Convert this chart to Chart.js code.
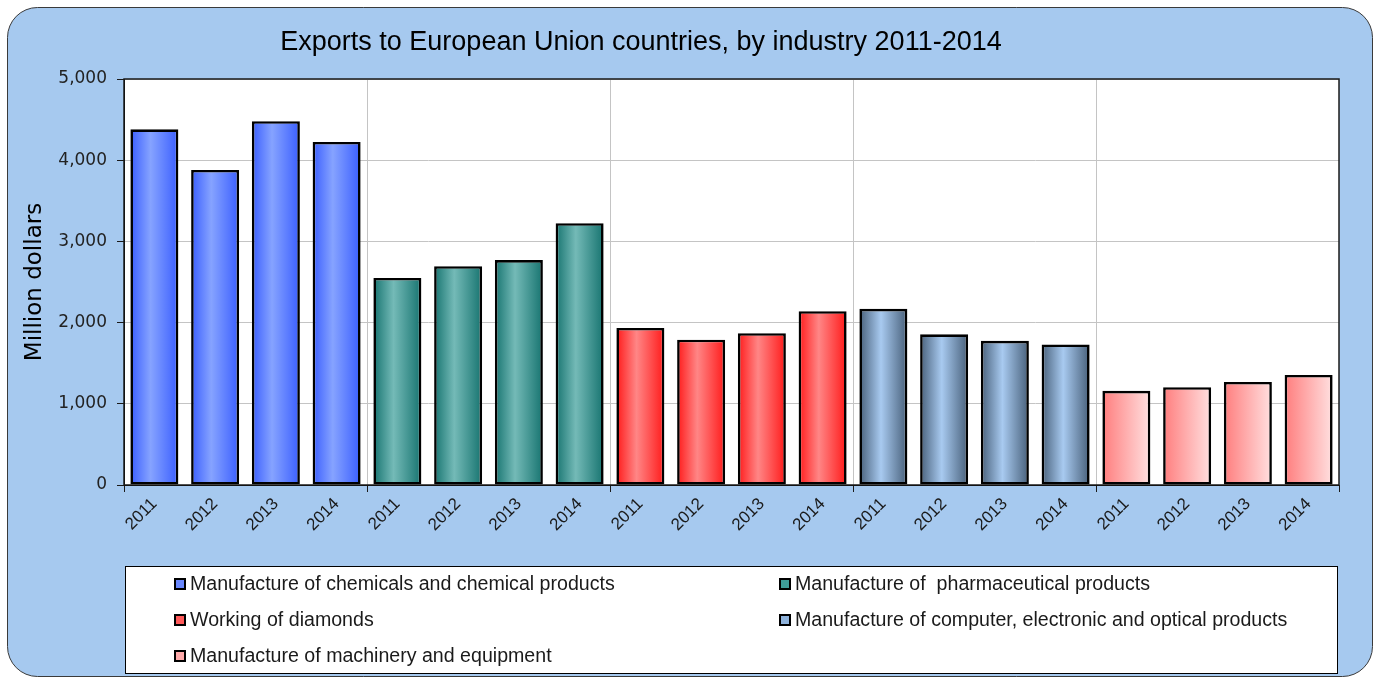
<!DOCTYPE html>
<html>
<head>
<meta charset="utf-8">
<title>Exports to European Union countries, by industry 2011-2014</title>
<script src="https://cdn.jsdelivr.net/npm/chart.js@4.4.1/dist/chart.umd.min.js"></script>
<style>
  html, body { margin: 0; padding: 0; background: #ffffff; }
  #wrap { position: relative; width: 1379px; height: 680px; }
</style>
</head>
<body>
<div id="wrap"><canvas id="chart" width="1379" height="680"></canvas></div>
<script>
// Export values, million dollars
const years = ['2011', '2012', '2013', '2014'];
const chemicals = [4380, 3880, 4480, 4225];
const pharmaceuticals = [2550, 2695, 2770, 3225];
const diamonds = [1935, 1790, 1870, 2140];
const computers = [2170, 1855, 1775, 1730];
const machinery = [1160, 1205, 1270, 1355];

const industryNames = [
  'Manufacture of chemicals and chemical products',
  'Manufacture of  pharmaceutical products',
  'Working of diamonds',
  'Manufacture of computer, electronic and optical products',
  'Manufacture of machinery and equipment'
];
const industryValues = [chemicals, pharmaceuticals, diamonds, computers, machinery];

const yTicks = [0, 1000, 2000, 3000, 4000, 5000];

// Horizontal shading stops for each industry's bars
const shading = [
  [[0, '#3a5eff'], [0.42, '#86a3ff'], [1, '#3a5eff']],
  [[0, '#177470'], [0.42, '#74bab7'], [1, '#177470']],
  [[0, '#ff1a1a'], [0.42, '#ff8686'], [1, '#ff1a1a']],
  [[0, '#48607a'], [0.45, '#a8caf0'], [1, '#48607a']],
  [[0, '#ff7d7d'], [1, '#ffe0e0']]
];
const swatchColors = ['#6a88ff', '#3f9c98', '#ff5a5a', '#8fb3dc', '#ffaaaa'];

const labels = [];
industryValues.forEach(() => years.forEach(y => labels.push(y)));

const BAR_PCT = 0.79;

function barFill(stops) {
  return (ctx) => {
    const chart = ctx.chart;
    if (!chart.chartArea || !chart.scales.x) return stops[0][1];
    const xs = chart.scales.x;
    const cx = xs.getPixelForTick(ctx.dataIndex);
    const w = xs.width / labels.length * BAR_PCT;
    const g = chart.ctx.createLinearGradient(cx - w / 2, 0, cx + w / 2, 0);
    stops.forEach(s => g.addColorStop(s[0], s[1]));
    return g;
  };
}

const datasets = industryValues.map((vals, k) => {
  const data = labels.map(() => null);
  vals.forEach((v, j) => { data[k * years.length + j] = v; });
  return {
    label: industryNames[k],
    data: data,
    grouped: false,
    backgroundColor: barFill(shading[k]),
    borderColor: '#000000',
    borderWidth: 2.6,
    borderSkipped: false,
    barPercentage: BAR_PCT,
    categoryPercentage: 1.0
  };
});

// Rounded light-blue panel behind everything
const panelPlugin = {
  id: 'panel',
  beforeDraw(chart) {
    const c = chart.ctx;
    c.save();
    c.beginPath();
    c.roundRect(7.5, 7.5, 1365, 669, 30);
    c.fillStyle = '#a6c9ef';
    c.fill();
    c.lineWidth = 1;
    c.strokeStyle = '#3a3a3a';
    c.stroke();
    const a = chart.chartArea;
    c.fillStyle = '#ffffff';
    c.fillRect(a.left, a.top, a.right - a.left, a.bottom - a.top);
    c.restore();
  },
  afterDraw(chart) {
    const c = chart.ctx;
    const a = chart.chartArea;
    c.save();
    // plot frame
    c.strokeStyle = '#1a1a1a';
    c.lineWidth = 1.5;
    c.strokeRect(a.left, a.top, a.right - a.left, a.bottom - a.top);
    // closing tick at the right end of the category axis
    c.lineWidth = 1;
    c.beginPath();
    c.moveTo(Math.round(a.right) + 0.5, a.bottom);
    c.lineTo(Math.round(a.right) + 0.5, a.bottom + 7);
    c.stroke();

    // chart title
    c.fillStyle = '#000000';
    c.font = '27px "Liberation Sans", Arial, sans-serif';
    c.textAlign = 'center';
    c.textBaseline = 'alphabetic';
    c.fillText('Exports to European Union countries, by industry 2011-2014', 641, 50);

    // legend box
    const lx = 125.5, ly = 566.5, lw = 1212, lh = 107;
    c.fillStyle = '#ffffff';
    c.fillRect(lx, ly, lw, lh);
    c.strokeStyle = '#000000';
    c.lineWidth = 1;
    c.strokeRect(lx, ly, lw, lh);

    const colX = [175, 780];
    const rowY = [584, 620, 656];
    c.font = '19.6px "Liberation Sans", Arial, sans-serif';
    c.textAlign = 'left';
    c.textBaseline = 'middle';
    industryNames.forEach((name, k) => {
      const x = colX[k % 2];
      const y = rowY[Math.floor(k / 2)];
      c.fillStyle = swatchColors[k];
      c.fillRect(x, y - 5, 10, 10);
      c.strokeStyle = '#000000';
      c.lineWidth = 2;
      c.strokeRect(x, y - 5, 10, 10);
      c.fillStyle = '#1a1a1a';
      c.fillText(name, x + 15, y + 1);
    });
    c.restore();
  }
};

const thousands = v => v.toLocaleString('en-US');

new Chart(document.getElementById('chart'), {
  type: 'bar',
  data: { labels: labels, datasets: datasets },
  plugins: [panelPlugin],
  options: {
    responsive: false,
    animation: false,
    layout: { padding: { top: 79, right: 40, bottom: 0, left: 0 } },
    plugins: {
      legend: { display: false },
      title: { display: false },
      tooltip: { enabled: false }
    },
    scales: {
      x: {
        offset: true,
        afterFit(scale) { scale.height = 195; },
        border: { display: true, color: '#000000', width: 1 },
        grid: {
          offset: true,
          drawOnChartArea: true,
          lineWidth: 1,
          tickLength: 7,
          color: ctx => (ctx.index % 4 === 0 && ctx.index !== 0) ? '#c4c4c4' : 'rgba(0,0,0,0)',
          tickColor: ctx => (ctx.index % 4 === 0) ? '#1a1a1a' : 'rgba(0,0,0,0)'
        },
        ticks: {
          autoSkip: false,
          minRotation: 45,
          maxRotation: 45,
          padding: 2,
          color: '#1a1a1a',
          font: { family: '"Liberation Sans", Arial, sans-serif', size: 17 }
        }
      },
      y: {
        min: 0,
        max: 5000,
        afterFit(scale) { scale.width = 124; },
        afterBuildTicks(scale) { scale.ticks = yTicks.map(v => ({ value: v })); },
        border: { display: true, color: '#000000', width: 1 },
        grid: {
          color: '#c4c4c4',
          lineWidth: 1,
          tickLength: 7,
          tickColor: '#1a1a1a'
        },
        ticks: {
          padding: 10,
          color: '#222222',
          font: { family: '"DejaVu Sans", Verdana, sans-serif', size: 17 },
          callback: v => thousands(v)
        },
        title: {
          display: true,
          text: 'Million dollars',
          color: '#000000',
          padding: { top: 21, bottom: 0 },
          font: { family: '"DejaVu Sans", Verdana, sans-serif', size: 23 }
        }
      }
    }
  }
});
</script>
</body>
</html>
